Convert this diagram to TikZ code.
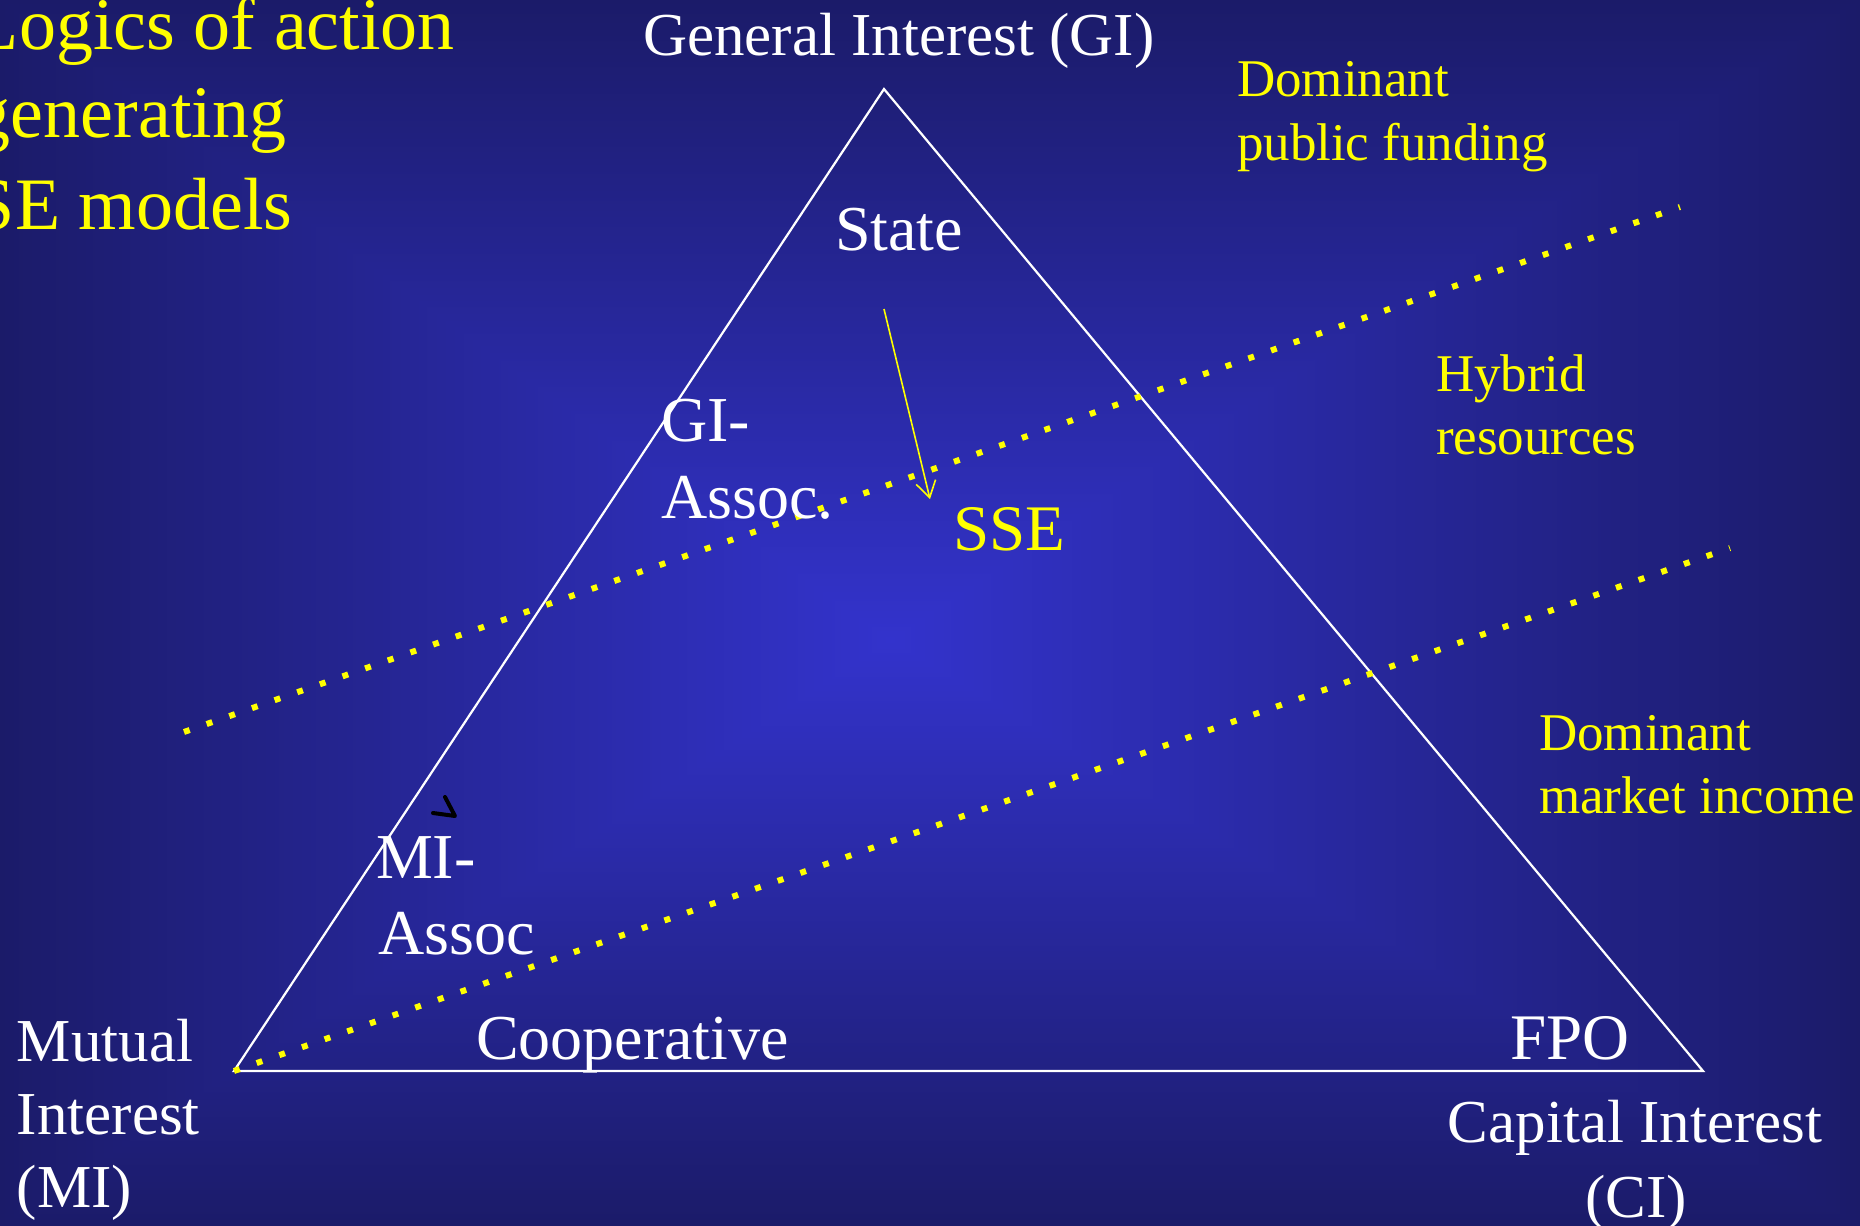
\documentclass[tikz,border=0pt]{standalone}
\usepackage{fontspec}
\setmainfont{Liberation Serif}
\usetikzlibrary{arrows.meta}
\definecolor{bgcenter}{RGB}{51,51,204}
\definecolor{bgedge}{RGB}{27,27,105}
\definecolor{hiyellow}{RGB}{255,255,0}

\begin{document}
\begin{tikzpicture}[x=0.5pt,y=-0.5pt,
  lbl/.style={inner sep=0pt, outer sep=0pt, anchor=base west},
  whitelbl/.style={lbl, text=white, font=\fontsize{30.5}{36}\selectfont},
  innerlbl/.style={lbl, text=white, font=\fontsize{32}{38}\selectfont},
  yellowlbl/.style={lbl, text=hiyellow, font=\fontsize{26.5}{32}\selectfont},
  titlelbl/.style={lbl, text=hiyellow, font=\fontsize{37}{45}\selectfont},
  edge/.style={draw=white, line width=1.1pt},
  band/.style={draw=hiyellow, line width=3pt, dash pattern=on 3pt off 9pt},
  flow/.style={draw=hiyellow, line width=0.8pt,
    -{Straight Barb[length=8pt, width=10pt, line width=0.8pt]}},
  scribble/.style={draw=black, line width=2pt, line cap=round, line join=round}
]
\useasboundingbox (0,0) rectangle (1860,1226);

% background: rectangular gradient from the centre outwards
\shade[top color=bgedge, bottom color=bgcenter] (0,0) rectangle (1860,640);
\shade[top color=bgcenter, bottom color=bgedge] (0,640) rectangle (1860,1226);
\shade[left color=bgedge, right color=bgcenter] (0,0) -- (890,640) -- (0,1226) -- cycle;
\shade[left color=bgcenter, right color=bgedge] (1860,0) -- (890,640) -- (1860,1226) -- cycle;

% title
\node[titlelbl] (title1) at (-26,49)  {Logics of action};
\node[titlelbl] (title2) at (-26,137) {generating};
\node[titlelbl] (title3) at (-26,229) {SE models};

% triangle of interests
\coordinate (giv) at (884,89);
\coordinate (miv) at (234,1071);
\coordinate (civ) at (1703,1071);
\draw[edge] (giv) -- (miv) -- (civ) -- cycle;

% resource bands
\coordinate (bandAa) at (184,732);
\coordinate (bandAb) at (1680,207);
\coordinate (bandBa) at (234,1071);
\coordinate (bandBb) at (1730,548);
\draw[band] (bandAa) -- (bandAb);
\draw[band] (bandBa) -- (bandBb);

% corner labels
\node[whitelbl] (gi) at (643,55) {General Interest (GI)};
\node[whitelbl] (mut1) at (17,1061) {Mutual};
\node[whitelbl] (mut2) at (17,1134) {Interest};
\node[whitelbl] (mut3) at (17,1207) {(MI)};
\node[whitelbl, anchor=base] (cap1) at (1635,1142) {Capital Interest};
\node[whitelbl, anchor=base] (cap2) at (1636,1217) {(CI)};

% organisations inside the triangle
\node[innerlbl] (state) at (835,250) {State};
\node[innerlbl] (gia1) at (661,441) {GI-};
\node[innerlbl] (gia2) at (661,518) {Assoc.};
\node[innerlbl] (mia1) at (376,878) {MI-};
\node[innerlbl] (mia2) at (378,954) {Assoc};
\node[innerlbl] (coop) at (476,1059) {Cooperative};
\node[innerlbl, font=\fontsize{32.5}{38}\selectfont] (fpo) at (1510,1059) {FPO};
\node[lbl, text=hiyellow, font=\fontsize{32.5}{38}\selectfont] (sse) at (953,550) {SSE};

% resource labels
\node[yellowlbl] (dpf1) at (1237,97)  {Dominant};
\node[yellowlbl] (dpf2) at (1237,160) {public funding};
\node[yellowlbl] (hyb1) at (1436,391) {Hybrid};
\node[yellowlbl] (hyb2) at (1436,454) {resources};
\node[yellowlbl] (dmi1) at (1539,750) {Dominant};
\node[yellowlbl] (dmi2) at (1539,813) {market income};

% arrow from the state towards the SSE
\coordinate (flowA) at (884,309);
\coordinate (flowB) at (930,499);
\draw[flow] (flowA) -- (flowB);

% small pen mark
\coordinate (pm1) at (433,813);
\coordinate (pm2) at (455,816);
\coordinate (pm3) at (445,797);
\draw[scribble] (pm1) -- (pm2) -- (pm3);
\end{tikzpicture}
\end{document}
